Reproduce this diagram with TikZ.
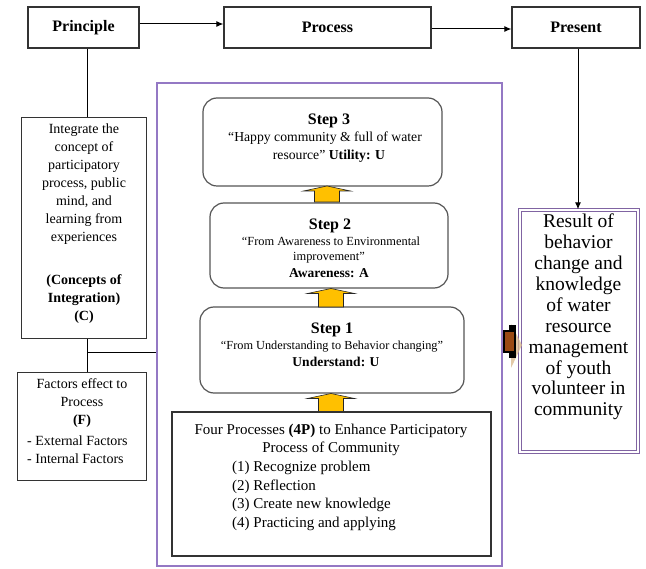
\documentclass[tikz,border=0pt]{standalone}
\usepackage{fontspec}
\setmainfont{Liberation Serif}
\usetikzlibrary{arrows.meta}
\definecolor{boxgray}{HTML}{333333}
\definecolor{stepgray}{HTML}{555555}
\definecolor{boxpurple}{HTML}{9478C4}
\definecolor{respurple}{HTML}{8064A2}
\definecolor{yel}{HTML}{FFC000}
\definecolor{brownfill}{HTML}{9A4A14}
\definecolor{tanshade}{HTML}{D9B88C}
\newcommand\yelarrow[3]{%
  \filldraw[fill=yel, draw=black!85, line width=0.6pt]
    ({#1-12.5},#3) -- ({#1-12.5},{#2+5}) -- ({#1-23.5},{#2+5}) -- (#1,#2)
    -- ({#1+23.5},{#2+5}) -- ({#1+12.5},{#2+5}) -- ({#1+12.5},#3) -- cycle;}
\begin{document}
\begin{tikzpicture}[x=1pt,y=-1pt,
  sq/.style={draw=boxgray, line width=1.3pt, inner sep=0pt},
  thinbox/.style={draw=boxgray, line width=1pt, inner sep=0pt},
  stepbox/.style={draw=stepgray, line width=1.2pt, rounded corners=14pt, inner sep=0pt},
  txt/.style={inner sep=0pt, align=center},
  ln/.style={inner sep=0pt, anchor=base},
  ttl/.style={ln, font=\fontsize{16}{18}\selectfont\bfseries},
  conn/.style={draw=black, line width=1pt},
  arr/.style={conn, -{Latex[length=7pt,width=6pt]}},
]
\useasboundingbox (0,0) rectangle (646,569);
\fill[white] (0,0) rectangle (646,569);

% top row
\node[sq, minimum width=111pt, minimum height=41pt] (principle) at (83.5,27.5) {\fontsize{16}{19}\selectfont\bfseries Principle};
\node[sq, minimum width=207pt, minimum height=41pt] (process) at (327.5,27.5) {\fontsize{16}{19}\selectfont\bfseries Process};
\node[sq, minimum width=128pt, minimum height=41pt] (present) at (576,27.5) {\fontsize{16}{19}\selectfont\bfseries Present};
\draw[arr] ([yshift=3.5pt]principle.east) -- ([yshift=3.5pt]process.west);
\draw[arr] ([yshift=-1.5pt]process.east) -- ([yshift=-1.5pt]present.west);

% left column
\node[thinbox, minimum width=125pt, minimum height=221pt] (concepts) at (83.5,228.5) {};
\node[txt, font=\fontsize{14}{18}\selectfont] (tconc) at (84,224) {Integrate the\\concept of\\participatory\\process, public\\mind, and\\learning from\\experiences\\[25pt]\textbf{(Concepts of}\\\textbf{Integration)}\\\textbf{(C)}};
\node[thinbox, minimum width=129pt, minimum height=108pt] (factors) at (81.5,427) {};
\node[txt, font=\fontsize{14}{18}\selectfont] (tfa) at (82,403) {Factors effect to\\Process\\\textbf{(F)}};
\node[txt, align=left, anchor=west, font=\fontsize{14}{18}\selectfont] (tfb) at (27,450) {- External Factors\\- Internal Factors};

% purple frame
\node[draw=boxpurple, line width=1.4pt, minimum width=345pt, minimum height=483pt, inner sep=0pt] (frame) at (329.5,324.5) {};

\draw[conn] ([xshift=3.5pt]principle.south) -- ([xshift=3.5pt]concepts.north);
\draw[conn] ([xshift=3.5pt]concepts.south) -- ([xshift=5.5pt]factors.north);
\coordinate (junc) at (87,353);
\draw[conn] (junc) -- (junc -| frame.west);

% step 3
\node[stepbox, minimum width=239pt, minimum height=88pt] (step3) at (322.5,142) {};
\node[ttl] (t3a) at (329,124.5) {Step 3};
\node[ln, font=\fontsize{13.7}{16}\selectfont] (t3b) at (325,141.5) {“Happy community \& full of water};
\node[ln, font=\fontsize{13.7}{16}\selectfont] (t3c) at (329,159.5) {resource” \textbf{Utility: U}};
% step 2
\node[stepbox, minimum width=238pt, minimum height=85pt] (step2) at (329,245.5) {};
\node[ttl] (t2a) at (330,229.5) {Step 2};
\node[ln, font=\fontsize{12.4}{15}\selectfont] (t2b) at (331,246) {“From Awareness to Environmental};
\node[ln, font=\fontsize{12.4}{15}\selectfont] (t2c) at (329,261) {improvement”};
\node[ln, font=\fontsize{13.5}{16}\selectfont\bfseries] (t2d) at (329,277.5) {Awareness: A};
% step 1
\node[stepbox, minimum width=264pt, minimum height=86pt] (step1) at (332,350) {};
\node[ttl] (t1a) at (332,333.5) {Step 1};
\node[ln, font=\fontsize{12.3}{15}\selectfont] (t1b) at (332,349.5) {“From Understanding to Behavior changing”};
\node[ln, font=\fontsize{13.5}{16}\selectfont\bfseries] (t1c) at (336,366.5) {Understand: U};

\yelarrow{327}{186}{202}
\yelarrow{331}{288.5}{307}
\yelarrow{331}{393.5}{412}

% 4P box
\node[draw=boxgray, line width=1.2pt, minimum width=319pt, minimum height=144pt, inner sep=0pt] (fourp) at (331.5,484) {};
\node[txt, font=\fontsize{15}{18.6}\selectfont] (t4a) at (331,440) {Four Processes \textbf{(4P)} to Enhance Participatory\\Process of Community};
\node[txt, align=left, anchor=west, font=\fontsize{15}{18.6}\selectfont] (t4b) at (232,496) {(1) Recognize problem\\(2) Reflection\\(3) Create new knowledge\\(4) Practicing and applying};

% result
\node[draw=respurple, line width=1.3pt, double=white, double distance=1.1pt, minimum width=118pt, minimum height=242pt, inner sep=0pt] (result) at (579,331) {};
\node[txt, font=\fontsize{19.5}{20.9}\selectfont] (tres) at (578.5,317) {Result of\\behavior\\change and\\knowledge\\of water\\resource\\management\\of youth\\volunteer in\\community};
\draw[arr] ([xshift=2pt]present.south) -- ([xshift=-1pt]result.north);

% brown block arrow between frame and result
\fill[tanshade, opacity=0.75] (511,324) -- (522,345) -- (511,368) -- cycle;
\filldraw[fill=brownfill, draw=black, line width=2pt] (504,331) rectangle (515,352);
\fill[black] (509,325) rectangle (516,331);
\fill[black] (509,352) rectangle (516,358);
\end{tikzpicture}
\end{document}
